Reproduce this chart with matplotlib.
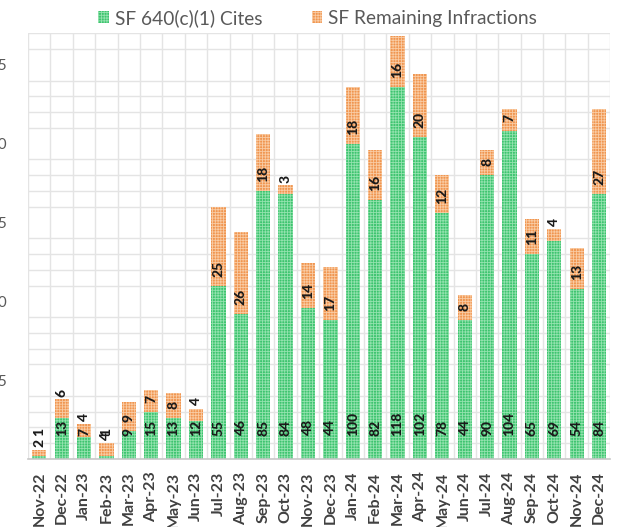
import matplotlib.pyplot as plt
import numpy as np

plt.rcParams['font.family'] = ['Lato', 'DejaVu Sans']
plt.rcParams['hatch.linewidth'] = 0.6

months = ['Nov-22', 'Dec-22', 'Jan-23', 'Feb-23', 'Mar-23', 'Apr-23', 'May-23', 'Jun-23',
          'Jul-23', 'Aug-23', 'Sep-23', 'Oct-23', 'Nov-23', 'Dec-23', 'Jan-24', 'Feb-24',
          'Mar-24', 'Apr-24', 'May-24', 'Jun-24', 'Jul-24', 'Aug-24', 'Sep-24', 'Oct-24',
          'Nov-24', 'Dec-24']
cites = [1, 13, 7, 1, 9, 15, 13, 12, 55, 46, 85, 84, 48, 44, 100, 82,
         118, 102, 78, 44, 90, 104, 65, 69, 54, 84]
remaining = [2, 6, 4, 4, 9, 7, 8, 4, 25, 26, 18, 3, 14, 17, 18, 16,
             16, 20, 12, 8, 8, 7, 11, 4, 13, 27]

green = '#3dc46f'
green_hatch = '#93e2ae'
orange = '#f0954f'
orange_hatch = '#f9cba3'

fig = plt.figure(figsize=(6.24, 5.27), dpi=100)
ax = fig.add_axes([0.045, 0.129, 0.933, 0.808])

x = np.arange(len(months))
width = 0.64
b1 = ax.bar(x, cites, width, color=green, edgecolor=green_hatch, linewidth=0,
            hatch='++++++', label='SF 640(c)(1) Cites', zorder=2)
b2 = ax.bar(x, remaining, width, bottom=cites, color=orange, edgecolor=orange_hatch,
            linewidth=0, hatch='++++++', label='SF Remaining Infractions', zorder=2)

# value labels, rotated like the axis labels
for i in range(len(months)):
    ax.annotate(str(cites[i]), (x[i], 0), xytext=(0, 16.5), textcoords='offset points',
                rotation=90, ha='center', va='bottom', fontsize=10, fontweight='black',
                color='#1a1a1a', zorder=4)
    if remaining[i] >= 7:
        ax.annotate(str(remaining[i]), (x[i], cites[i]), xytext=(0, 6.5),
                    textcoords='offset points', rotation=90, ha='center', va='bottom',
                    fontsize=10, fontweight='black', color='#1a1a1a', zorder=4)
    else:
        ax.annotate(str(remaining[i]), (x[i], cites[i] + remaining[i]), xytext=(0, 1.5),
                    textcoords='offset points', rotation=90, ha='center', va='bottom',
                    fontsize=10, fontweight='black', color='#1a1a1a', zorder=4)

ax.set_xlim(-0.5, len(months) - 0.5)
ax.set_ylim(0, 135)
ax.set_yticks([25, 50, 75, 100, 125])
ax.set_yticks(np.arange(0, 136, 5), minor=True)
ax.set_xticks(x)
ax.set_xticklabels(months, rotation=90, fontsize=11.5, fontweight='bold', color='#404040')
ax.set_xticks(np.arange(-0.5, len(months), 1), minor=True)
ax.tick_params(axis='y', which='both', length=0, pad=15, labelsize=11, labelcolor='#595959')
ax.tick_params(axis='x', which='both', length=0, pad=9)

ax.grid(which='minor', color='#e4e4e4', linewidth=1, zorder=0)
ax.set_axisbelow(True)
for s in ['left', 'right', 'top']:
    ax.spines[s].set_visible(False)
ax.spines['bottom'].set_color('#c8c8c8')
ax.spines['bottom'].set_linewidth(1.2)

fig.legend(handles=[b1, b2], loc='upper center', bbox_to_anchor=(0.509, 1.016), ncol=2,
           frameon=False, fontsize=13.8, labelcolor='#595959', handlelength=0.55,
           handleheight=0.55, handletextpad=0.3, columnspacing=2.6)

plt.savefig('out.png', dpi=100)
